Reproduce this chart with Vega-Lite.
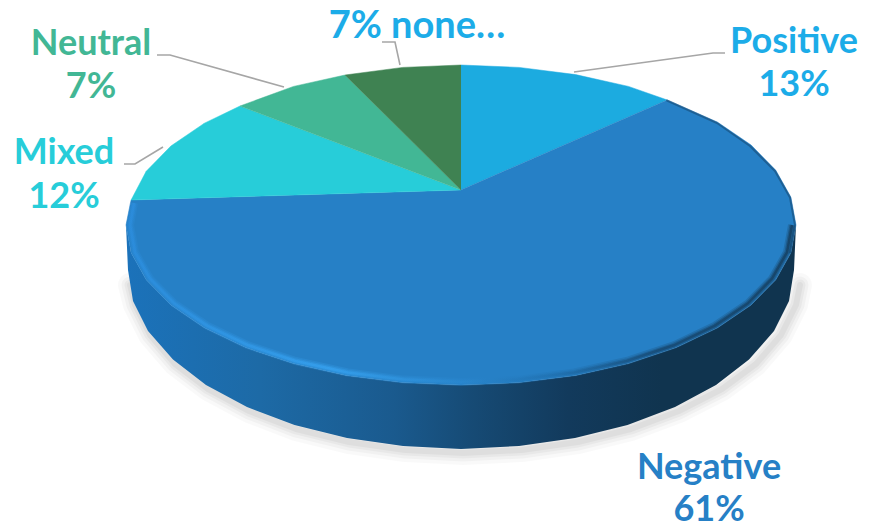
{
  "$schema": "https://vega.github.io/schema/vega-lite/v6.json",
  "width": 873,
  "height": 529,
  "padding": 0,
  "autosize": {"type": "none"},
  "background": "white",
  "config": {"view": {"stroke": null}},
  "datasets": {
    "slices": [
      {"slice": "Positive", "share": 13, "pt": 0, "x": 461, "y": 190},
      {"slice": "Positive", "share": 13, "pt": 1, "x": 461, "y": 65},
      {"slice": "Positive", "share": 13, "pt": 2, "x": 519.2, "y": 67.4},
      {"slice": "Positive", "share": 13, "pt": 3, "x": 575.6, "y": 74.6},
      {"slice": "Positive", "share": 13, "pt": 4, "x": 628.5, "y": 86.4},
      {"slice": "Positive", "share": 13, "pt": 5, "x": 667.3, "y": 100},
      {"slice": "Negative", "share": 61, "pt": 0, "x": 461, "y": 190},
      {"slice": "Negative", "share": 61, "pt": 1, "x": 667.3, "y": 100},
      {"slice": "Negative", "share": 61, "pt": 2, "x": 717.6, "y": 122.2},
      {"slice": "Negative", "share": 61, "pt": 3, "x": 751.1, "y": 145},
      {"slice": "Negative", "share": 61, "pt": 4, "x": 775.8, "y": 170.3},
      {"slice": "Negative", "share": 61, "pt": 5, "x": 790.9, "y": 197.2},
      {"slice": "Negative", "share": 61, "pt": 6, "x": 796, "y": 225},
      {"slice": "Negative", "share": 61, "pt": 7, "x": 790.9, "y": 252.8},
      {"slice": "Negative", "share": 61, "pt": 8, "x": 775.8, "y": 279.7},
      {"slice": "Negative", "share": 61, "pt": 9, "x": 751.1, "y": 305},
      {"slice": "Negative", "share": 61, "pt": 10, "x": 717.6, "y": 327.8},
      {"slice": "Negative", "share": 61, "pt": 11, "x": 676.3, "y": 347.6},
      {"slice": "Negative", "share": 61, "pt": 12, "x": 628.5, "y": 363.6},
      {"slice": "Negative", "share": 61, "pt": 13, "x": 575.6, "y": 375.4},
      {"slice": "Negative", "share": 61, "pt": 14, "x": 519.2, "y": 382.6},
      {"slice": "Negative", "share": 61, "pt": 15, "x": 461, "y": 385},
      {"slice": "Negative", "share": 61, "pt": 16, "x": 402.8, "y": 382.6},
      {"slice": "Negative", "share": 61, "pt": 17, "x": 346.4, "y": 375.4},
      {"slice": "Negative", "share": 61, "pt": 18, "x": 293.5, "y": 363.6},
      {"slice": "Negative", "share": 61, "pt": 19, "x": 245.7, "y": 347.6},
      {"slice": "Negative", "share": 61, "pt": 20, "x": 204.4, "y": 327.8},
      {"slice": "Negative", "share": 61, "pt": 21, "x": 170.9, "y": 305},
      {"slice": "Negative", "share": 61, "pt": 22, "x": 146.2, "y": 279.7},
      {"slice": "Negative", "share": 61, "pt": 23, "x": 131.1, "y": 252.8},
      {"slice": "Negative", "share": 61, "pt": 24, "x": 126, "y": 225},
      {"slice": "Negative", "share": 61, "pt": 25, "x": 131.1, "y": 200},
      {"slice": "Mixed", "share": 12, "pt": 0, "x": 461, "y": 190},
      {"slice": "Mixed", "share": 12, "pt": 1, "x": 131.1, "y": 200},
      {"slice": "Mixed", "share": 12, "pt": 2, "x": 146.2, "y": 171.3},
      {"slice": "Mixed", "share": 12, "pt": 3, "x": 170.9, "y": 146},
      {"slice": "Mixed", "share": 12, "pt": 4, "x": 204.4, "y": 123.2},
      {"slice": "Mixed", "share": 12, "pt": 5, "x": 240, "y": 106},
      {"slice": "Neutral", "share": 7, "pt": 0, "x": 461, "y": 190},
      {"slice": "Neutral", "share": 7, "pt": 1, "x": 240, "y": 106},
      {"slice": "Neutral", "share": 7, "pt": 2, "x": 293.5, "y": 86.4},
      {"slice": "Neutral", "share": 7, "pt": 3, "x": 345, "y": 75},
      {"slice": "none…", "share": 7, "pt": 0, "x": 461, "y": 190},
      {"slice": "none…", "share": 7, "pt": 1, "x": 345, "y": 75},
      {"slice": "none…", "share": 7, "pt": 2, "x": 402.8, "y": 67.4},
      {"slice": "none…", "share": 7, "pt": 3, "x": 461, "y": 65}
    ],
    "wall": [
      {"pt": 0, "x": 126, "y": 225},
      {"pt": 1, "x": 131.1, "y": 252.8},
      {"pt": 2, "x": 146.2, "y": 279.7},
      {"pt": 3, "x": 170.9, "y": 305},
      {"pt": 4, "x": 204.4, "y": 327.8},
      {"pt": 5, "x": 245.7, "y": 347.6},
      {"pt": 6, "x": 293.5, "y": 363.6},
      {"pt": 7, "x": 346.4, "y": 375.4},
      {"pt": 8, "x": 402.8, "y": 382.6},
      {"pt": 9, "x": 461, "y": 385},
      {"pt": 10, "x": 519.2, "y": 382.6},
      {"pt": 11, "x": 575.6, "y": 375.4},
      {"pt": 12, "x": 628.5, "y": 363.6},
      {"pt": 13, "x": 676.3, "y": 347.6},
      {"pt": 14, "x": 717.6, "y": 327.8},
      {"pt": 15, "x": 751.1, "y": 305},
      {"pt": 16, "x": 775.8, "y": 279.7},
      {"pt": 17, "x": 790.9, "y": 252.8},
      {"pt": 18, "x": 796, "y": 225},
      {"pt": 19, "x": 794, "y": 270},
      {"pt": 20, "x": 789, "y": 301},
      {"pt": 21, "x": 774, "y": 331},
      {"pt": 22, "x": 749, "y": 359.5},
      {"pt": 23, "x": 716, "y": 385},
      {"pt": 24, "x": 675, "y": 407},
      {"pt": 25, "x": 627.5, "y": 425},
      {"pt": 26, "x": 575, "y": 438},
      {"pt": 27, "x": 519, "y": 446},
      {"pt": 28, "x": 461, "y": 449},
      {"pt": 29, "x": 403, "y": 446},
      {"pt": 30, "x": 347, "y": 438},
      {"pt": 31, "x": 294.5, "y": 425},
      {"pt": 32, "x": 247, "y": 407},
      {"pt": 33, "x": 206, "y": 385},
      {"pt": 34, "x": 173, "y": 359.5},
      {"pt": 35, "x": 148, "y": 331},
      {"pt": 36, "x": 133, "y": 301},
      {"pt": 37, "x": 128, "y": 270}
    ],
    "groundEdge": [
      {"pt": 0, "x": 130, "y": 285},
      {"pt": 1, "x": 135, "y": 305},
      {"pt": 2, "x": 150, "y": 335},
      {"pt": 3, "x": 175, "y": 364},
      {"pt": 4, "x": 208, "y": 389},
      {"pt": 5, "x": 249, "y": 411},
      {"pt": 6, "x": 296, "y": 429},
      {"pt": 7, "x": 349, "y": 442},
      {"pt": 8, "x": 405, "y": 450},
      {"pt": 9, "x": 463, "y": 453},
      {"pt": 10, "x": 522, "y": 450},
      {"pt": 11, "x": 578, "y": 442},
      {"pt": 12, "x": 631, "y": 429},
      {"pt": 13, "x": 679, "y": 411},
      {"pt": 14, "x": 722, "y": 389},
      {"pt": 15, "x": 756, "y": 364},
      {"pt": 16, "x": 781, "y": 335},
      {"pt": 17, "x": 796, "y": 305},
      {"pt": 18, "x": 800, "y": 285}
    ],
    "rimFront": [
      {"pt": 5, "x": 792, "y": 225},
      {"pt": 6, "x": 787, "y": 252.3},
      {"pt": 7, "x": 772, "y": 278.7},
      {"pt": 8, "x": 747.7, "y": 303.5},
      {"pt": 9, "x": 714.6, "y": 325.9},
      {"pt": 10, "x": 673.8, "y": 345.3},
      {"pt": 11, "x": 626.5, "y": 361},
      {"pt": 12, "x": 574.2, "y": 372.5},
      {"pt": 13, "x": 518.5, "y": 379.6},
      {"pt": 14, "x": 461, "y": 382},
      {"pt": 15, "x": 403.5, "y": 379.6},
      {"pt": 16, "x": 347.8, "y": 372.5},
      {"pt": 17, "x": 295.5, "y": 361},
      {"pt": 18, "x": 248.2, "y": 345.3},
      {"pt": 19, "x": 207.4, "y": 325.9},
      {"pt": 20, "x": 174.3, "y": 303.5},
      {"pt": 21, "x": 150, "y": 278.7},
      {"pt": 22, "x": 135, "y": 252.3},
      {"pt": 23, "x": 130, "y": 225},
      {"pt": 24, "x": 134, "y": 203}
    ],
    "rimBack": [
      {"pt": 0, "x": 667, "y": 100.5},
      {"pt": 1, "x": 717, "y": 123},
      {"pt": 2, "x": 750, "y": 146},
      {"pt": 3, "x": 775, "y": 171},
      {"pt": 4, "x": 790, "y": 197.5},
      {"pt": 5, "x": 795, "y": 225},
      {"pt": 6, "x": 790, "y": 252.5}
    ],
    "leaders": [
      {"slice": "Positive", "pt": 0, "x": 725, "y": 53},
      {"slice": "Positive", "pt": 1, "x": 713, "y": 53},
      {"slice": "Positive", "pt": 2, "x": 574, "y": 72},
      {"slice": "Neutral", "pt": 0, "x": 157, "y": 55},
      {"slice": "Neutral", "pt": 1, "x": 170, "y": 55},
      {"slice": "Neutral", "pt": 2, "x": 284, "y": 87},
      {"slice": "Mixed", "pt": 0, "x": 124, "y": 164},
      {"slice": "Mixed", "pt": 1, "x": 135, "y": 164},
      {"slice": "Mixed", "pt": 2, "x": 163, "y": 147},
      {"slice": "none…", "pt": 0, "x": 382, "y": 42},
      {"slice": "none…", "pt": 1, "x": 395, "y": 42},
      {"slice": "none…", "pt": 2, "x": 400, "y": 65}
    ],
    "labels": [
      {"slice": "Positive", "text": "Positive", "x": 794, "y": 53},
      {"slice": "Positive", "text": "13%", "x": 794, "y": 96},
      {"slice": "Negative", "text": "Negative", "x": 709, "y": 479},
      {"slice": "Negative", "text": "61%", "x": 709, "y": 521},
      {"slice": "Mixed", "text": "Mixed", "x": 64, "y": 164},
      {"slice": "Mixed", "text": "12%", "x": 64, "y": 208},
      {"slice": "Neutral", "text": "Neutral", "x": 91, "y": 55},
      {"slice": "Neutral", "text": "7%", "x": 91, "y": 98}
    ],
    "noneLabel": [
      {"slice": "none…", "text": "7% none…", "x": 417, "y": 38}
    ]
  },
  "encoding": {
    "x": {"field": "x", "type": "quantitative", "axis": null, "scale": {"domain": [0, 873], "range": [0, 873], "nice": false, "zero": false}},
    "y": {"field": "y", "type": "quantitative", "axis": null, "scale": {"domain": [0, 529], "range": [0, 529], "nice": false, "zero": false}},
    "order": {"field": "pt", "type": "quantitative"}
  },
  "layer": [
    {"data": {"name": "groundEdge"}, "mark": {"type": "line", "stroke": "#000000", "strokeWidth": 24, "opacity": 0.022, "strokeJoin": "round", "strokeCap": "round"}},
    {"data": {"name": "groundEdge"}, "mark": {"type": "line", "stroke": "#000000", "strokeWidth": 17, "opacity": 0.03, "strokeJoin": "round", "strokeCap": "round"}},
    {"data": {"name": "groundEdge"}, "mark": {"type": "line", "stroke": "#000000", "strokeWidth": 11, "opacity": 0.035, "strokeJoin": "round", "strokeCap": "round"}},
    {"data": {"name": "groundEdge"}, "mark": {"type": "line", "stroke": "#000000", "strokeWidth": 6, "opacity": 0.04, "strokeJoin": "round", "strokeCap": "round"}},
    {
      "data": {"name": "wall"},
      "mark": {
        "type": "line",
        "filled": true,
        "strokeWidth": 0,
        "fill": {
          "gradient": "linear", "x1": 0, "y1": 0, "x2": 1, "y2": 0,
          "stops": [
            {"offset": 0, "color": "#1b72ba"},
            {"offset": 0.2, "color": "#1d6aa6"},
            {"offset": 0.4, "color": "#1a5a8e"},
            {"offset": 0.52, "color": "#164a74"},
            {"offset": 0.66, "color": "#123a5c"},
            {"offset": 0.8, "color": "#10344f"},
            {"offset": 1, "color": "#10344f"}
          ]
        }
      }
    },
    {
      "data": {"name": "slices"},
      "mark": {"type": "line", "filled": true, "strokeWidth": 0.5},
      "encoding": {
        "fill": {
          "field": "slice", "type": "nominal", "legend": null,
          "scale": {"domain": ["Positive", "Negative", "Mixed", "Neutral", "none…"], "range": ["#1cabe0", "#2680c6", "#27cdd9", "#42b795", "#3f8252"]}
        },
        "stroke": {
          "field": "slice", "type": "nominal", "legend": null,
          "scale": {"domain": ["Positive", "Negative", "Mixed", "Neutral", "none…"], "range": ["#1cabe0", "#2680c6", "#27cdd9", "#42b795", "#3f8252"]}
        }
      }
    },
    {
      "data": {"name": "rimBack"},
      "mark": {"type": "line", "strokeWidth": 2, "opacity": 0.45, "stroke": "#123a5c", "strokeJoin": "round", "strokeCap": "round"}
    },
    {
      "data": {"name": "rimFront"},
      "mark": {
        "type": "line", "strokeWidth": 8, "opacity": 0.22, "strokeJoin": "round",
        "stroke": {
          "gradient": "linear", "x1": 0, "y1": 0, "x2": 1, "y2": 0,
          "stops": [
            {"offset": 0, "color": "#2c8fe0"},
            {"offset": 0.3, "color": "#38a6f5"},
            {"offset": 0.5, "color": "#2a88d0"},
            {"offset": 0.64, "color": "#1f6fae"},
            {"offset": 0.8, "color": "#143f63"},
            {"offset": 1, "color": "#12344f"}
          ]
        }
      }
    },
    {
      "data": {"name": "rimFront"},
      "mark": {
        "type": "line", "strokeWidth": 5, "opacity": 0.35, "strokeJoin": "round",
        "stroke": {
          "gradient": "linear", "x1": 0, "y1": 0, "x2": 1, "y2": 0,
          "stops": [
            {"offset": 0, "color": "#2c8fe0"},
            {"offset": 0.3, "color": "#38a6f5"},
            {"offset": 0.5, "color": "#2a88d0"},
            {"offset": 0.64, "color": "#1f6fae"},
            {"offset": 0.8, "color": "#143f63"},
            {"offset": 1, "color": "#12344f"}
          ]
        }
      }
    },
    {
      "data": {"name": "rimFront"},
      "mark": {
        "type": "line", "strokeWidth": 2.5, "opacity": 0.55, "strokeJoin": "round",
        "stroke": {
          "gradient": "linear", "x1": 0, "y1": 0, "x2": 1, "y2": 0,
          "stops": [
            {"offset": 0, "color": "#2c8fe0"},
            {"offset": 0.3, "color": "#38a6f5"},
            {"offset": 0.5, "color": "#2a88d0"},
            {"offset": 0.64, "color": "#1f6fae"},
            {"offset": 0.8, "color": "#143f63"},
            {"offset": 1, "color": "#12344f"}
          ]
        }
      }
    },
    {
      "data": {"name": "leaders"},
      "mark": {"type": "line", "stroke": "#a6a6a6", "strokeWidth": 1.6},
      "encoding": {"detail": {"field": "slice", "type": "nominal"}}
    },
    {
      "data": {"name": "labels"},
      "mark": {"type": "text", "font": "Lato", "fontWeight": "bold", "fontSize": 36, "align": "center", "baseline": "alphabetic"},
      "encoding": {
        "text": {"field": "text", "type": "nominal"},
        "order": {"value": null},
        "color": {
          "field": "slice", "type": "nominal", "legend": null,
          "scale": {"domain": ["Positive", "Negative", "Mixed", "Neutral"], "range": ["#1cace8", "#2680c6", "#27cdd9", "#42b795"]}
        }
      }
    },
    {
      "data": {"name": "noneLabel"},
      "mark": {"type": "text", "font": "Lato", "fontWeight": "bold", "fontSize": 38, "align": "center", "baseline": "alphabetic", "color": "#1cace8"},
      "encoding": {"text": {"field": "text", "type": "nominal"}, "order": {"value": null}}
    }
  ]
}
